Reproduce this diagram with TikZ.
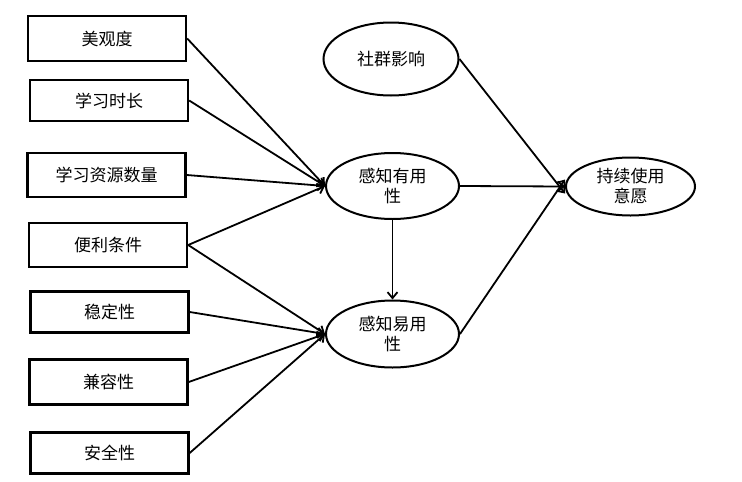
\documentclass[tikz,border=0pt]{standalone}
\usepackage{fontspec}
\newfontfamily\cjk{Noto Sans CJK SC}
\usetikzlibrary{arrows.meta,shapes.geometric}
\begin{document}
\begin{tikzpicture}[x=1pt,y=-1pt,
  every node/.style={font=\cjk\fontsize{17}{20}\selectfont, text=black},
  factor/.style={draw, line width=2.4pt, rectangle, minimum width=158pt, inner sep=0pt},
  latent/.style={draw, line width=2pt, ellipse, inner sep=0pt, align=center},
  link/.style={line width=1.8pt, -{Straight Barb[length=6pt,width=10pt,line width=1.8pt]}}
]
\useasboundingbox (0,0) rectangle (742,482);
\fill[white] (0,0) rectangle (742,482);
\node[factor, minimum height=45pt] (a) at (107,38.5) {美观度};
\node[factor, minimum height=41pt] (b) at (109,100.5) {学习时长};
\node[factor, minimum height=44pt] (c) at (106.5,175) {学习资源数量};
\node[factor, minimum height=44pt] (d) at (108,245) {便利条件};
\node[factor, minimum height=41pt] (e) at (109.5,312) {稳定性};
\node[factor, minimum height=45pt] (f) at (108.5,382) {兼容性};
\node[factor, minimum height=41pt] (g) at (109.5,453) {安全性};

\node[latent, minimum width=135pt, minimum height=73pt] (s) at (391,59) {社群影响};
\node[latent, minimum width=133pt, minimum height=66pt] (u) at (392.5,186) {感知有用\\性};
\node[latent, minimum width=133pt, minimum height=67pt] (p) at (392.5,334) {感知易用\\性};
\node[latent, minimum width=129pt, minimum height=58pt] (i) at (630.5,186.5) {持续使用\\意愿};

\draw[link] (a.east) -- (u.west);
\draw[link] (b.east) -- (u.west);
\draw[link] (c.east) -- (u.west);
\draw[link] (d.east) -- (u.west);
\draw[link] (d.east) -- (p.west);
\draw[link] (e.east) -- (p.west);
\draw[link] (f.east) -- (p.west);
\draw[link] (g.east) -- (p.west);
\draw[link] (u.south) -- (p.north);
\draw[link] (s.east) -- ([yshift=-7pt]i.west);
\draw[link] (u.east) -- (i.west);
\draw[link] (p.east) -- ([yshift=7pt]i.west);
\end{tikzpicture}
\end{document}
